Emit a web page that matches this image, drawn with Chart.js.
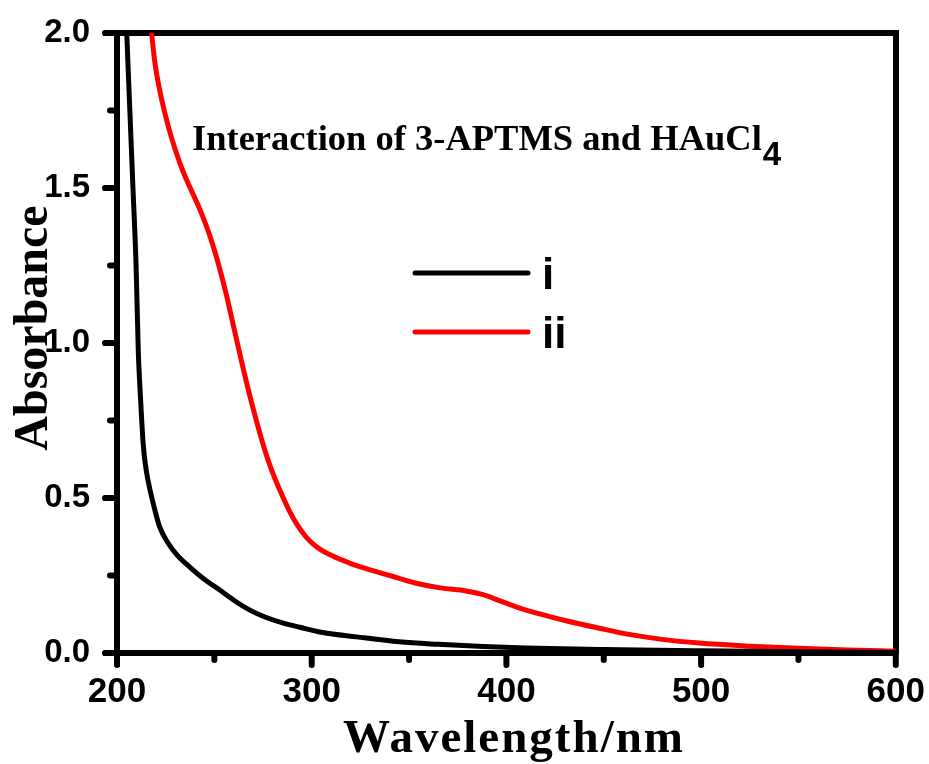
<!DOCTYPE html>
<html>
<head>
<meta charset="utf-8">
<script src="https://cdn.jsdelivr.net/npm/chart.js@4.4.0/dist/chart.umd.min.js"></script>
<style>
  body { margin: 0; background: #fff; }
</style>
</head>
<body>
<canvas id="absChart" width="929" height="764"></canvas>
<script>
// curve i (black)
const waveI = [203.5, 205, 206.6, 208.2, 209.8, 210.9, 212.1, 213.5, 215, 217, 219.5, 222, 226.3, 231, 237.4, 245, 252.8, 260, 268, 276, 285, 294, 305.6, 323, 345, 365, 388, 410, 450, 500, 550, 600];
const absI = [2.3, 2.0, 1.75, 1.5, 1.25, 0.98, 0.82, 0.67, 0.59, 0.525, 0.46, 0.405, 0.354, 0.315, 0.277, 0.237, 0.203, 0.17, 0.139, 0.116, 0.097, 0.083, 0.066, 0.052, 0.036, 0.028, 0.021, 0.016, 0.011, 0.007, 0.004, 0.002];

// curve ii (red)
const waveII = [216, 217.8, 219.5, 224.6, 232.3, 243.4, 248, 252, 256, 260, 264, 268.2, 272, 275.9, 280, 283.6, 288, 292.1, 297, 302.4, 310, 319.5, 328, 340, 353.7, 366, 379.3, 388, 396, 405, 417, 430.6, 447.7, 463, 480, 499, 525, 550, 575, 600];
const absII = [2.12, 2.0, 1.903, 1.741, 1.58, 1.418, 1.34, 1.257, 1.16, 1.05, 0.94, 0.83, 0.74, 0.655, 0.58, 0.526, 0.465, 0.418, 0.375, 0.343, 0.315, 0.29, 0.272, 0.25, 0.225, 0.21, 0.2, 0.188, 0.17, 0.149, 0.126, 0.104, 0.08, 0.06, 0.044, 0.032, 0.022, 0.015, 0.01, 0.006];

const seriesNames = ['i', 'ii'];
const xMajor = [200, 300, 400, 500, 600];
const xMinor = [250, 350, 450, 550];
const yMajor = [0, 0.5, 1.0, 1.5, 2.0];
const yMinor = [0.25, 0.75, 1.25, 1.75];

const toPoints = (xs, ys) => xs.map((x, i) => ({x: x, y: ys[i]}));

// outward tick marks, long for labelled values, short between them
const tickMarks = {
  id: 'tickMarks',
  afterDraw(chart) {
    const {ctx, chartArea, scales} = chart;
    ctx.save();
    ctx.strokeStyle = '#000';
    ctx.lineWidth = 6;
    ctx.lineCap = 'round';
    const xTick = (v, len) => {
      const px = scales.x.getPixelForValue(v);
      ctx.beginPath();
      ctx.moveTo(px, chartArea.bottom);
      ctx.lineTo(px, chartArea.bottom + len);
      ctx.stroke();
    };
    const yTick = (v, len) => {
      const py = scales.y.getPixelForValue(v);
      ctx.beginPath();
      ctx.moveTo(chartArea.left, py);
      ctx.lineTo(chartArea.left - len, py);
      ctx.stroke();
    };
    xMajor.forEach(v => xTick(v, 12));
    yMajor.forEach(v => yTick(v, 12));
    xMinor.forEach(v => xTick(v, 7));
    yMinor.forEach(v => yTick(v, 7));
    ctx.restore();
  }
};

// legend, caption and axis titles
const insideText = {
  id: 'insideText',
  afterDatasetsDraw(chart) {
    const {ctx, chartArea} = chart;
    ctx.save();
    const x0 = chartArea.left + 298;
    const x1 = chartArea.left + 411;
    chart.data.datasets.forEach((ds, i) => {
      const y = chartArea.top + 240 + i * 59;
      ctx.strokeStyle = ds.borderColor;
      ctx.lineWidth = 5;
      ctx.lineCap = 'round';
      ctx.beginPath();
      ctx.moveTo(x0, y);
      ctx.lineTo(x1, y);
      ctx.stroke();
      ctx.fillStyle = '#000';
      ctx.font = 'bold 44px "Liberation Sans"';
      ctx.textBaseline = 'alphabetic';
      ctx.fillText(ds.label, x1 + 14, y + 16);
    });

    const tx = chartArea.left + 75;
    const ty = chartArea.top + 117;
    ctx.font = 'bold 36.5px "Liberation Serif"';
    ctx.fillText('Interaction of 3-APTMS and HAuCl', tx, ty);
    const w = ctx.measureText('Interaction of 3-APTMS and HAuCl').width;
    ctx.font = 'bold 33px "Liberation Sans"';
    ctx.fillText('4', tx + w + 1, ty + 15);

    // axis titles
    ctx.font = 'bold 47px "Liberation Serif"';
    ctx.textAlign = 'center';
    ctx.letterSpacing = '2px';
    ctx.fillText('Wavelength/nm', chartArea.left + 397, 752);
    ctx.letterSpacing = '0px';
    ctx.font = 'bold 48px "Liberation Serif"';
    ctx.translate(47, chartArea.top + 295);
    ctx.rotate(-Math.PI / 2);
    ctx.fillText('Absorbance', 0, 0);
    ctx.restore();
  }
};

const frame = {color: '#000', width: 6};

const ctx = document.getElementById('absChart').getContext('2d');
const absChart = new Chart(ctx, {
  type: 'line',
  data: {
    datasets: [{
      label: seriesNames[0],
      data: toPoints(waveI, absI),
      borderColor: '#000000',
      borderWidth: 5,
      pointRadius: 0,
      cubicInterpolationMode: 'monotone'
    }, {
      label: seriesNames[1],
      data: toPoints(waveII, absII),
      borderColor: '#ff0000',
      borderWidth: 5,
      pointRadius: 0,
      cubicInterpolationMode: 'monotone'
    }]
  },
  options: {
    responsive: false,
    animation: false,
    layout: {padding: 0},
    plugins: {
      legend: {display: false},
      tooltip: {enabled: false}
    },
    scales: {
      x: {
        type: 'linear',
        position: 'bottom',
        min: 200,
        max: 600,
        afterBuildTicks: s => { s.ticks = xMajor.map(v => ({value: v})); },
        afterFit: s => { s.height = 111; },
        ticks: {color: '#000', font: {family: 'Liberation Sans', size: 35, weight: 'bold'}, padding: 4, maxRotation: 0, callback: v => String(v)},
        grid: {drawOnChartArea: false, tickLength: 14, tickWidth: 5, tickColor: '#000'},
        border: frame
      },
      y: {
        type: 'linear',
        position: 'left',
        min: 0,
        max: 2,
        afterBuildTicks: s => { s.ticks = yMajor.map(v => ({value: v})); },
        afterFit: s => { s.width = 117; },
        ticks: {color: '#000', font: {family: 'Liberation Sans', size: 33, weight: 'bold'}, padding: 13, callback: v => v.toFixed(1)},
        grid: {drawOnChartArea: false, tickLength: 14, tickWidth: 5, tickColor: '#000'},
        border: frame
      },
      x2: {
        type: 'linear',
        position: 'top',
        min: 200,
        max: 600,
        afterFit: s => { s.height = 33; },
        ticks: {display: false},
        grid: {display: false},
        border: frame
      },
      y2: {
        type: 'linear',
        position: 'right',
        min: 0,
        max: 2,
        afterFit: s => { s.width = 32; },
        ticks: {display: false},
        grid: {display: false},
        border: frame
      }
    }
  },
  plugins: [tickMarks, insideText]
});
</script>
</body>
</html>
